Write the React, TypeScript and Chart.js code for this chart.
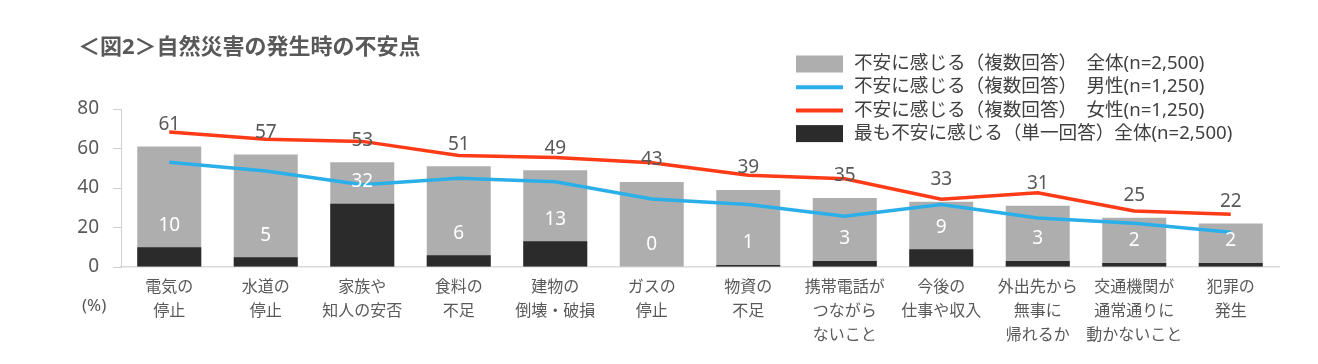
import React, { useEffect, useRef } from "react";
import { Chart, registerables } from "chart.js";

Chart.register(...registerables);

const categories: string[][] = [
  ["電気の", "停止"],
  ["水道の", "停止"],
  ["家族や", "知人の安否"],
  ["食料の", "不足"],
  ["建物の", "倒壊・破損"],
  ["ガスの", "停止"],
  ["物資の", "不足"],
  ["携帯電話が", "つながら", "ないこと"],
  ["今後の", "仕事や収入"],
  ["外出先から", "無事に", "帰れるか"],
  ["交通機関が", "通常通りに", "動かないこと"],
  ["犯罪の", "発生"],
];

const totalAll: number[] = [61, 57, 53, 51, 49, 43, 39, 35, 33, 31, 25, 22];
const maleValues: number[] = [53.0, 48.6, 41.7, 44.9, 43.2, 34.4, 31.7, 25.7, 31.7, 24.8, 22.1, 17.6];
const femaleValues: number[] = [68.4, 64.7, 63.6, 56.5, 55.5, 52.8, 46.4, 44.7, 34.3, 37.6, 28.4, 26.7];
const singleAll: number[] = [10, 5, 32, 6, 13, 0, 1, 3, 9, 3, 2, 2];

const yTicks: number[] = [0, 20, 40, 60, 80];

const titleText = "＜図2＞自然災害の発生時の不安点";
const legendLabels: string[] = [
  "不安に感じる（複数回答）　全体(n=2,500)",
  "不安に感じる（複数回答）　男性(n=1,250)",
  "不安に感じる（複数回答）　女性(n=1,250)",
  "最も不安に感じる（単一回答）全体(n=2,500)",
];
const unitLabel = "(%)";

const FONT = "'Noto Sans', 'Noto Sans CJK JP', sans-serif";
const GRAY = "#aeaeae";
const BLACK = "#2b2b2b";
const BLUE = "#2aafe9";
const RED = "#ff3a16";
const TEXT = "#595959";

const overlayPlugin = {
  id: "overlay",
  afterDatasetsDraw(chart: any) {
    const ctx = chart.ctx;
    ctx.save();
    ctx.textAlign = "center";
    ctx.textBaseline = "middle";
    ctx.font = `19px ${FONT}`;
    const grayMeta = chart.getDatasetMeta(3);
    ctx.fillStyle = TEXT;
    grayMeta.data.forEach((el: any, i: number) => {
      ctx.fillText(String(totalAll[i]), el.x, el.y - 22);
    });
    const blackMeta = chart.getDatasetMeta(2);
    ctx.fillStyle = "#ffffff";
    blackMeta.data.forEach((el: any, i: number) => {
      ctx.fillText(String(singleAll[i]), el.x, el.y - 22);
    });
    ctx.restore();
  },
  afterDraw(chart: any) {
    const ctx = chart.ctx;
    ctx.save();
    // title
    ctx.textAlign = "left";
    ctx.textBaseline = "middle";
    ctx.fillStyle = TEXT;
    ctx.font = `bold 22px ${FONT}`;
    ctx.fillText(titleText, 78, 48);
    // unit
    ctx.font = `17px ${FONT}`;
    ctx.fillText(unitLabel, 82, 306);
    // legend
    ctx.font = `18.6px ${FONT}`;
    const x0 = 796;
    const w = 47;
    legendLabels.forEach((lab, i) => {
      const cy = 64 + i * 23.2;
      if (i === 0 || i === 3) {
        ctx.fillStyle = i === 0 ? GRAY : BLACK;
        ctx.fillRect(x0, cy - 8.5, w, 17);
      } else {
        ctx.strokeStyle = i === 1 ? BLUE : RED;
        ctx.lineWidth = 4;
        ctx.beginPath();
        ctx.moveTo(x0, cy);
        ctx.lineTo(x0 + w, cy);
        ctx.stroke();
      }
      ctx.fillStyle = "#404040";
      ctx.fillText(lab, 854, cy);
    });
    ctx.restore();
  },
};

export default function App() {
  const canvasRef = useRef<HTMLCanvasElement | null>(null);

  useEffect(() => {
    document.body.style.margin = "0";
    const canvas = canvasRef.current;
    if (!canvas) return;
    const chart = new Chart(canvas, {
      type: "bar",
      data: {
        labels: categories,
        datasets: [
          {
            type: "line",
            label: legendLabels[1],
            data: maleValues,
            borderColor: BLUE,
            backgroundColor: BLUE,
            borderWidth: 3.5,
            pointRadius: 0,
            tension: 0,
            order: 0,
          } as any,
          {
            type: "line",
            label: legendLabels[2],
            data: femaleValues,
            borderColor: RED,
            backgroundColor: RED,
            borderWidth: 3.5,
            pointRadius: 0,
            tension: 0,
            order: 1,
          } as any,
          {
            type: "bar",
            label: legendLabels[3],
            data: singleAll,
            backgroundColor: BLACK,
            grouped: false,
            categoryPercentage: 1,
            barPercentage: 0.663,
            order: 2,
          } as any,
          {
            type: "bar",
            label: legendLabels[0],
            data: totalAll,
            backgroundColor: GRAY,
            grouped: false,
            categoryPercentage: 1,
            barPercentage: 0.663,
            order: 3,
          } as any,
        ],
      },
      options: {
        animation: false,
        responsive: true,
        maintainAspectRatio: false,
        layout: { padding: { left: 0, top: 109, right: 39, bottom: 0 } },
        plugins: {
          legend: { display: false },
          title: { display: false },
          tooltip: { enabled: false },
        },
        scales: {
          x: {
            grid: { display: false, drawTicks: false },
            border: { display: true, color: "#d9d9d9", width: 1.5 },
            ticks: {
              color: TEXT,
              font: { family: FONT, size: 16, lineHeight: 1.5 },
              padding: 8,
              autoSkip: false,
              maxRotation: 0,
              minRotation: 0,
            },
            afterFit(scale: any) {
              scale.height = 97;
            },
          },
          y: {
            min: 0,
            max: 80,
            afterBuildTicks(scale: any) {
              scale.ticks = yTicks.map((v) => ({ value: v }));
            },
            grid: {
              drawOnChartArea: false,
              drawTicks: true,
              tickLength: 8,
              color: "#d0d0d0",
            },
            border: { display: true, color: "#d0d0d0" },
            ticks: {
              color: TEXT,
              font: { family: FONT, size: 19 },
              padding: 14,
            },
            afterFit(scale: any) {
              scale.width = 121;
            },
          },
        },
      },
      plugins: [overlayPlugin],
    });
    return () => chart.destroy();
  }, []);

  return (
    <div style={{ position: "relative", width: "1318px", height: "364px" }}>
      <canvas ref={canvasRef} />
    </div>
  );
}
